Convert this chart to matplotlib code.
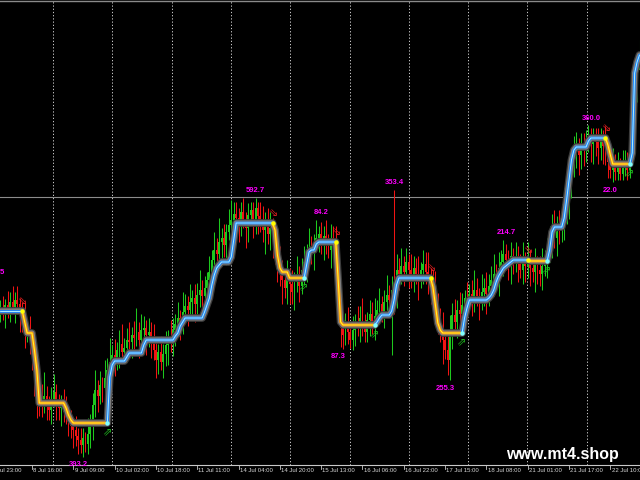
import numpy as np
import matplotlib
matplotlib.use("Agg")
import matplotlib.pyplot as plt
from matplotlib.transforms import blended_transform_factory

# ---------------- data (hourly candles, arbitrary price units) ----------------
FIRST_OPEN = 188
CLOSE = [
    192, 186, 195, 190, 198, 193, 200, 196, 188,
    180, 168, 172, 160, 150, 128, 110, 100,
    95, 104, 98, 90, 101, 108, 96, 92, 99, 88,
    84, 80, 74, 70, 64, 60, 55, 62, 56, 66, 78, 95, 110, 104, 115, 112, 122,
    130, 138, 145, 140, 150, 156, 148, 152, 160, 158, 165, 162, 168, 160, 170,
    172, 165, 168, 158, 150, 140, 148, 138, 146, 155, 162, 158, 170,
    176, 182, 178, 188, 194, 190, 198, 202, 196, 205, 210, 204,
    212, 220, 228, 240, 250, 246, 258, 262, 255, 268, 275, 280, 286,
    282, 276, 288, 280, 272, 285, 290, 278, 292, 284, 276, 270, 280, 266, 272,
    262, 248, 236, 228, 220, 212, 224, 216, 208, 218, 226, 214, 230,
    238, 246, 252, 248, 258, 262, 266, 256, 264, 258, 250, 262, 254,
    230, 200, 172, 165, 175, 168, 160, 170, 178, 172, 182, 176, 168, 180, 186, 178,
    184, 190, 196, 188, 198, 205, 200, 210, 204, 230, 226,
    234, 228, 238, 230, 224, 232, 226, 220, 230, 236, 228, 222,
    214, 205, 195, 182, 170, 160, 150, 140, 165, 185, 178, 190, 186,
    195, 202, 198, 206, 200, 210, 204, 198, 208, 212, 206, 214, 220, 226, 222,
    232, 238, 246, 240, 236, 244, 238, 242, 236, 230, 240, 234,
    238, 232, 228, 236, 230, 226, 234, 240,
    250, 258, 266, 262, 272, 270, 280, 292, 305, 320, 335, 348, 352, 345, 355,
    350, 358, 362, 356, 364, 358, 352, 360, 354,
    345, 338, 330, 336, 328, 334, 326, 332, 338, 330,
    345, 370, 410, 430, 448,
]
UPPER_WICK = [
    8, 12, 6, 14, 10, 16, 8, 14, 6, 10, 18, 8,
    12, 6, 10, 8, 14, 16, 24, 10, 6, 12, 18, 8,
    10, 6, 12, 16, 8, 10, 6, 14, 8, 12, 10, 6,
    16, 8, 12, 20, 10, 14, 8, 18, 12, 24, 10, 16,
    8, 14, 20, 10, 12, 18, 8, 14, 24, 10, 16, 12,
    8, 14, 10, 18, 12, 8, 16, 10, 14, 8, 18, 12,
    10, 16, 8, 20, 12, 10, 18, 8, 14, 12, 20, 10,
    12, 8, 16, 10, 18, 12, 24, 10, 14, 8, 16, 20,
    12, 12, 10, 10, 14, 8, 12, 8, 8, 10, 6, 14,
    18, 8, 12, 16, 10, 14, 8, 18, 12, 10, 16, 8,
    14, 10, 18, 8, 12, 16, 10, 20, 12, 8, 18, 8,
    12, 10, 16, 8, 14, 12, 20, 10, 8, 16, 12, 18,
    10, 14, 8, 16, 12, 20, 10, 8, 14, 12, 18, 10,
    16, 8, 12, 20, 10, 14, 100, 16, 12, 18, 10, 14,
    8, 16, 12, 10, 18, 8, 14, 12, 20, 10, 16, 24,
    12, 10, 18, 8, 14, 20, 12, 16, 10, 18, 12, 8,
    16, 10, 14, 20, 12, 8, 18, 10, 16, 12, 14, 20,
    10, 16, 12, 14, 10, 10, 14, 8, 16, 12, 10, 18,
    8, 20, 12, 10, 16, 8, 14, 18, 10, 12, 16, 20,
    24, 12, 18, 16, 20, 14, 18, 12, 16, 16, 10, 12,
    12, 12, 13, 10, 8, 8, 14, 12, 10, 20, 12, 8,
    16, 10, 14, 8, 18, 12, 10, 16, 20, 24, 16, 12,
]
LOWER_WICK = [
    10, 6, 14, 8, 12, 6, 16, 10, 20, 12, 16, 10,
    14, 20, 24, 28, 16, 12, 8, 18, 10, 14, 8, 16,
    12, 18, 10, 8, 16, 12, 18, 10, 14, 8, 12, 8,
    10, 14, 18, 12, 16, 8, 14, 10, 18, 12, 8, 16,
    10, 18, 12, 8, 14, 10, 16, 12, 8, 18, 10, 14,
    20, 12, 16, 10, 18, 14, 8, 16, 12, 20, 10, 14,
    16, 8, 18, 12, 10, 16, 8, 14, 18, 10, 12, 16,
    10, 18, 12, 8, 16, 14, 10, 18, 12, 20, 8, 14,
    16, 10, 18, 12, 8, 20, 14, 10, 16, 12, 18, 8,
    12, 24, 10, 16, 20, 12, 18, 14, 24, 10, 16, 20,
    12, 18, 10, 16, 8, 14, 20, 10, 12, 18, 8, 14,
    10, 16, 12, 8, 18, 12, 24, 16, 19, 14, 10, 12,
    8, 10, 16, 8, 14, 12, 10, 10, 16, 12, 18, 8,
    14, 10, 16, 12, 8, 55, 18, 12, 16, 10, 14, 8,
    18, 12, 16, 10, 20, 8, 14, 12, 16, 18, 10, 20,
    16, 12, 24, 9, 15, 20, 14, 10, 16, 12, 18, 10,
    14, 8, 16, 12, 10, 18, 8, 14, 20, 12, 10, 16,
    12, 18, 8, 14, 10, 16, 20, 12, 10, 18, 8, 14,
    16, 12, 18, 10, 20, 14, 12, 16, 10, 18, 12, 16,
    10, 18, 14, 12, 20, 16, 24, 18, 12, 16, 20, 14,
    16, 12, 10, 18, 20, 14, 16, 12, 18, 10, 16, 8,
    12, 8, 8, 6, 6, 8, 10, 8, 10, 16, 12, 18,
]
# step-trend indicator: (level, number of bars, direction)
TREND_RUNS = [
    (189, 9, 1),
    (189, 1, -1), (178, 1, -1), (167, 3, -1), (150, 1, -1), (130, 1, -1), (97, 11, -1),
    (92, 1, -1), (85, 1, -1), (80, 1, -1), (77, 14, -1),
    (77, 1, 1), (123, 1, 1), (135, 1, 1), (139, 5, 1), (143, 1, 1), (147, 6, 1), (155, 1, 1),
    (160, 12, 1), (164, 1, 1), (167, 1, 1), (174, 1, 1), (178, 1, 1), (182, 8, 1), (188, 1, 1),
    (195, 1, 1), (202, 1, 1), (215, 1, 1), (225, 1, 1), (232, 1, 1), (235, 1, 1), (238, 4, 1),
    (243, 1, 1), (260, 1, 1), (277, 15, 1),
    (277, 1, -1), (270, 1, -1), (245, 1, -1), (232, 1, -1), (228, 3, -1), (222, 6, -1),
    (222, 1, 1), (235, 1, 1), (248, 1, 1), (250, 2, 1), (256, 1, 1), (258, 7, 1),
    (258, 1, -1), (220, 1, -1), (178, 1, -1), (175, 13, -1),
    (175, 1, 1), (178, 1, 1), (182, 1, 1), (185, 4, 1), (189, 1, 1), (200, 1, 1), (215, 1, 1),
    (222, 13, 1),
    (222, 1, -1), (213, 1, -1), (195, 1, -1), (177, 1, -1), (170, 1, -1), (167, 8, -1),
    (167, 1, 1), (182, 1, 1), (192, 1, 1), (200, 8, 1), (202, 1, 1), (205, 1, 1), (210, 1, 1),
    (218, 1, 1), (224, 1, 1), (228, 1, 1), (232, 1, 1), (234, 1, 1), (236, 1, 1), (238, 1, 1),
    (240, 6, 1),
    (240, 1, -1), (239, 7, -1),
    (239, 1, 1), (250, 1, 1), (268, 1, 1), (273, 4, 1), (282, 1, 1), (300, 1, 1), (320, 1, 1),
    (340, 1, 1), (350, 1, 1), (353, 5, 1), (359, 1, 1), (362, 6, 1),
    (362, 1, -1), (355, 1, -1), (345, 1, -1), (336, 7, -1),
    (336, 1, 1), (347, 1, 1), (427, 1, 1), (438, 1, 1), (445, 1, 1),
]
TICK_LABELS = ["7 Jul 23:00", "8 Jul 16:00", "9 Jul 09:00", "10 Jul 02:00", "10 Jul 18:00",
               "11 Jul 11:00", "14 Jul 04:00", "14 Jul 20:00", "15 Jul 13:00", "16 Jul 06:00",
               "16 Jul 22:00", "17 Jul 15:00", "18 Jul 08:00", "21 Jul 01:00", "21 Jul 17:00",
               "22 Jul 10:00"]
TICK_BARS = [-4, 13, 30, 47, 64, 81, 98, 115, 132, 149, 166, 183, 200, 217, 234, 251]
# swing labels: (bar, text, side)
SWING_LABELS = [(32, "393.2", "low"), (105, "592.7", "high"), (132, "84.2", "high"),
                (139, "87.3", "low"), (162, "353.4", "high"), (183, "255.3", "low"),
                (208, "214.7", "high"), (243, "360.0", "high"), (251, "22.0", "low")]
EDGE_LABEL = (0.45, 228, "5")
HLINE_PRICE = 303

# ---------------- derived ----------------
close = np.array(CLOSE, float)
open_ = np.concatenate([[FIRST_OPEN], close[:-1]])
high = np.maximum(open_, close) + np.array(UPPER_WICK)
low = np.minimum(open_, close) - np.array(LOWER_WICK)
n = len(close)
x = np.arange(n)
trend = np.concatenate([np.full(c, v, float) for v, c, d in TREND_RUNS])
tdir = np.concatenate([np.full(c, d) for v, c, d in TREND_RUNS])

GREEN = "#1ec81e"
RED = "#f01414"

fig = plt.figure(figsize=(6.4, 4.8), dpi=100, facecolor="black")
ax = fig.add_axes([0, 15 / 480, 1, 464 / 480])
ax.set_facecolor("black")
ax.set_xlim(-0.17, 263.2)
ax.set_ylim(35, 499)

# grid (dotted, day separators)
for k in range(10):
    f = (53 + 59.3 * k) / 640
    ax.plot([f, f], [0, 1], transform=ax.transAxes, color="#c8c8c8", lw=0.7,
            ls=(0, (1.3, 2.0)), zorder=1)
ax.axhline(HLINE_PRICE, color="#8c8c8c", lw=0.8, zorder=1)

# candles
up = close >= open_
cols = np.where(up, GREEN, RED)
ax.vlines(x, low, high, colors=cols, lw=0.75, zorder=2)
ax.bar(x, np.abs(close - open_) + 0.8, bottom=np.minimum(open_, close) - 0.4,
       width=0.78, color=cols, lw=0, zorder=2)

# trend halo
ax.plot(x, trend, color="#3c3c3c", lw=5.6, solid_joinstyle="round",
        solid_capstyle="round", zorder=3)
ax.plot(x, trend, color="#7e7e7e", lw=3.8, solid_joinstyle="round",
        solid_capstyle="round", zorder=3.1)

starts = [0] + [i for i in range(1, n) if tdir[i] != tdir[i - 1]]
for k, s in enumerate(starts):
    e = starts[k + 1] if k + 1 < len(starts) else n - 1
    sl = slice(s, e + 1)
    if tdir[s] == 1:
        outer, inner = "#1a86ff", "#b0f0ff"
    else:
        outer, inner = "#ff9000", "#ffff3c"
    ax.plot(x[sl], trend[sl], color=outer, lw=2.0, solid_joinstyle="round",
            solid_capstyle="round", zorder=4)
    ax.plot(x[sl], trend[sl], color=inner, lw=0.7, solid_joinstyle="round",
            solid_capstyle="round", zorder=4.1)

for s in starts[1:]:
    if tdir[s] == -1:
        ax.plot(x[s], trend[s], "o", ms=3.2, color="#ffff00", mec="none", zorder=5)
        ax.text(x[s] + 0.3, trend[s] + 10, "\u21d8", color="#e02020", fontsize=8,
                ha="center", va="center", zorder=5)
    else:
        ax.plot(x[s], trend[s], "o", ms=3.2, color="#80ffff", mec="none", zorder=5)
        ax.text(x[s], trend[s] - 10, "\u21d7", color="#20c020", fontsize=8,
                ha="center", va="center", zorder=5)

# swing labels
for b, txt, side in SWING_LABELS:
    lo, hi = max(b - 3, 0), min(b + 4, n)
    if side == "high":
        yv = high[lo:hi].max() + 7
    else:
        yv = low[lo:hi].min() - 8
    ax.text(b, yv, txt, color="#ff00ff", fontsize=5.5, fontweight="bold",
            family="Liberation Sans", ha="center", va="center", zorder=6)
ax.text(EDGE_LABEL[0], EDGE_LABEL[1], EDGE_LABEL[2], color="#ff00ff", fontsize=5.5,
        fontweight="bold", family="Liberation Sans", ha="center", va="center",
        zorder=6, clip_on=True)

# axes styling
for side in ("left", "right"):
    ax.spines[side].set_visible(False)
ax.spines["bottom"].set_color("#c8c8c8")
ax.spines["bottom"].set_linewidth(0.8)
ax.spines["top"].set_color("#8a8a8a")
ax.spines["top"].set_linewidth(1.0)
ax.set_yticks([])
ax.set_xticks([])

# time-axis labels (MT4 style: tick mark, label to its right)
tr = blended_transform_factory(ax.transData, ax.transAxes)
for b, lab in zip(TICK_BARS, TICK_LABELS):
    ax.plot([b, b], [0, -4 / 464], transform=tr, color="#c8c8c8", lw=0.6,
            clip_on=False, zorder=6)
    ax.text(b + 0.5, -3.0 / 464, lab, transform=tr, ha="left", va="top",
            fontsize=4.3, color="#d8d8d8", family="Liberation Sans", clip_on=False)

fig.text(562 / 640, 1 - 455 / 480, "www.mt4.shop", color="white", fontsize=11.5,
         fontweight="bold", family="Liberation Sans", ha="center", va="center")

fig.savefig("out.png", dpi=100, facecolor="black")
